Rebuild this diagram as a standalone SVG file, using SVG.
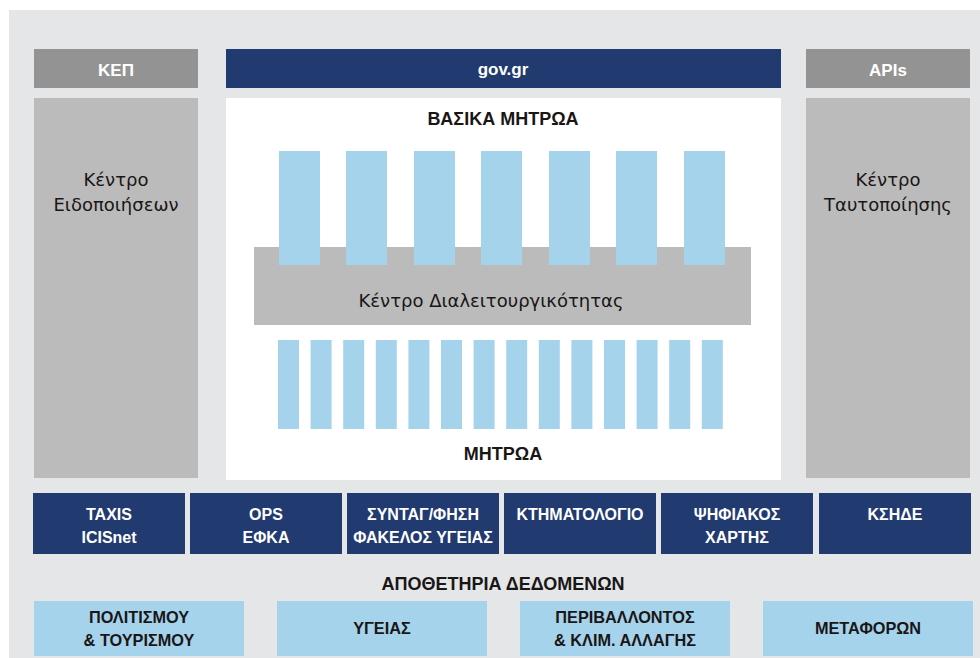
<svg xmlns="http://www.w3.org/2000/svg" width="980" height="658" viewBox="0 0 980 658">
<style>
text{font-family:"Liberation Sans",Arial,sans-serif;text-anchor:middle}
.hw{fill:#ffffff;font-weight:bold;font-size:17px}
.nav{fill:#ffffff;font-weight:bold;font-size:16px}
.dk{fill:#1a1616;font-weight:bold;font-size:18px}
.lb{fill:#1a1616;font-weight:bold;font-size:16.3px}
.rg{fill:#1a1616;font-size:18px;font-family:"DejaVu Sans","Liberation Sans",sans-serif}
.gray1{fill:#939393}
.gray2{fill:#bbbbbb}
.navy{fill:#213a70}
.blue{fill:#a6d3ec}
</style>
<rect x="0" y="0" width="980" height="658" fill="#ffffff"/>
<rect x="9" y="10" width="971" height="648" fill="#e5e6e8"/>

<g id="kep">
<rect class="gray1" x="34" y="49" width="164" height="39"/>
<text class="hw" x="116" y="76">ΚΕΠ</text>
</g>
<g id="govgr">
<rect class="navy" x="226" y="49" width="555" height="39"/>
<text class="hw" x="503" y="75" font-size="18">gov.gr</text>
</g>
<g id="apis">
<rect class="gray1" x="806" y="49" width="164" height="39"/>
<text class="hw" x="888" y="76">APIs</text>
</g>

<g id="kentro-eidopoiiseon">
<rect class="gray2" x="34" y="98" width="164" height="380"/>
<text class="rg" x="116" y="186">Κέντρο</text>
<text class="rg" x="116" y="211">Ειδοποιήσεων</text>
</g>
<g id="kentro-taftopoiisis">
<rect class="gray2" x="806" y="98" width="164" height="380"/>
<text class="rg" x="888" y="186">Κέντρο</text>
<text class="rg" x="888" y="211">Ταυτοποίησης</text>
</g>

<g id="center">
<rect x="226" y="98" width="555" height="382" fill="#ffffff"/>
<text class="dk" x="503" y="125">ΒΑΣΙΚΑ ΜΗΤΡΩΑ</text>
</g>

<g id="kentro-dialeitourgikotitas">
<rect class="gray2" x="254" y="247" width="497" height="78"/>
<text class="rg" x="491" y="307">Κέντρο Διαλειτουργικότητας</text>
</g>

<g id="vasika-mitroa">
<rect class="blue" x="279" y="151" width="41" height="114"/>
<rect class="blue" x="346" y="151" width="41" height="114"/>
<rect class="blue" x="414" y="151" width="41" height="114"/>
<rect class="blue" x="481" y="151" width="41" height="114"/>
<rect class="blue" x="549" y="151" width="41" height="114"/>
<rect class="blue" x="616" y="151" width="41" height="114"/>
<rect class="blue" x="684" y="151" width="41" height="114"/>
</g>

<g id="mitroa">
<rect class="blue" x="278" y="340" width="21" height="89"/>
<rect class="blue" x="310.6" y="340" width="21" height="89"/>
<rect class="blue" x="343.2" y="340" width="21" height="89"/>
<rect class="blue" x="375.8" y="340" width="21" height="89"/>
<rect class="blue" x="408.4" y="340" width="21" height="89"/>
<rect class="blue" x="441" y="340" width="21" height="89"/>
<rect class="blue" x="473.6" y="340" width="21" height="89"/>
<rect class="blue" x="506.2" y="340" width="21" height="89"/>
<rect class="blue" x="538.8" y="340" width="21" height="89"/>
<rect class="blue" x="571.4" y="340" width="21" height="89"/>
<rect class="blue" x="604" y="340" width="21" height="89"/>
<rect class="blue" x="636.6" y="340" width="21" height="89"/>
<rect class="blue" x="669.2" y="340" width="21" height="89"/>
<rect class="blue" x="701.8" y="340" width="21" height="89"/>
<text class="dk" x="503" y="460">ΜΗΤΡΩΑ</text>
</g>

<g id="taxis">
<rect class="navy" x="33" y="493" width="152" height="61"/>
<text class="nav" x="109" y="520">TAXIS</text>
<text class="nav" x="109" y="543">ICISnet</text>
</g>
<g id="ops">
<rect class="navy" x="190" y="493" width="152" height="61"/>
<text class="nav" x="266" y="520">OPS</text>
<text class="nav" x="266" y="543">ΕΦΚΑ</text>
</g>
<g id="syntagografisi">
<rect class="navy" x="347" y="493" width="152" height="61"/>
<text class="nav" x="423" y="520">ΣΥΝΤΑΓ/ΦΗΣΗ</text>
<text class="nav" x="423" y="543">ΦΑΚΕΛΟΣ ΥΓΕΙΑΣ</text>
</g>
<g id="ktimatologio">
<rect class="navy" x="504" y="493" width="152" height="61"/>
<text class="nav" x="580" y="520">ΚΤΗΜΑΤΟΛΟΓΙΟ</text>
</g>
<g id="psifiakos-xartis">
<rect class="navy" x="661" y="493" width="152" height="61"/>
<text class="nav" x="737" y="520">ΨΗΦΙΑΚΟΣ</text>
<text class="nav" x="737" y="543">ΧΑΡΤΗΣ</text>
</g>
<g id="kside">
<rect class="navy" x="819" y="493" width="152" height="61"/>
<text class="nav" x="895" y="520">ΚΣΗΔΕ</text>
</g>

<g id="apothetiria">
<text class="dk" x="503" y="590">ΑΠΟΘΕΤΗΡΙΑ ΔΕΔΟΜΕΝΩΝ</text>
</g>

<g id="politismou">
<rect class="blue" x="34" y="601" width="210" height="55"/>
<text class="lb" x="139" y="622.5">ΠΟΛΙΤΙΣΜΟΥ</text>
<text class="lb" x="139" y="645.5">&amp; ΤΟΥΡΙΣΜΟΥ</text>
</g>
<g id="ygeias">
<rect class="blue" x="277" y="601" width="210" height="55"/>
<text class="lb" x="382" y="634">ΥΓΕΙΑΣ</text>
</g>
<g id="perivallontos">
<rect class="blue" x="520" y="601" width="210" height="55"/>
<text class="lb" x="625" y="622.5">ΠΕΡΙΒΑΛΛΟΝΤΟΣ</text>
<text class="lb" x="625" y="645.5">&amp; ΚΛΙΜ. ΑΛΛΑΓΗΣ</text>
</g>
<g id="metaforon">
<rect class="blue" x="763" y="601" width="210" height="55"/>
<text class="lb" x="868" y="634">ΜΕΤΑΦΟΡΩΝ</text>
</g>

<g id="connectors"></g>
</svg>
